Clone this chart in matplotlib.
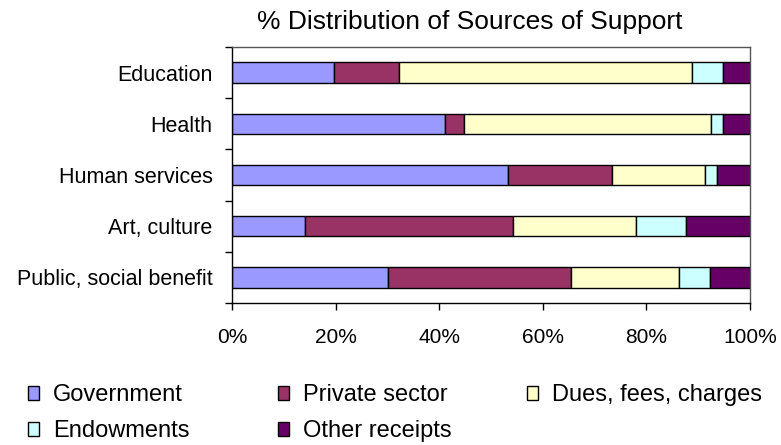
import matplotlib
matplotlib.use('Agg')
import matplotlib.pyplot as plt
import numpy as np

plt.rcParams['font.family'] = ['Liberation Sans', 'DejaVu Sans']

categories = ['Education', 'Health', 'Human services', 'Art, culture',
              'Public, social benefit']
series = ['Government', 'Private sector', 'Dues, fees, charges',
          'Endowments', 'Other receipts']
colors = ['#9999FF', '#993366', '#FFFFCC', '#CCFFFF', '#660066']

government = [19.7, 41.1, 53.3, 14.1, 30.2]
private = [12.6, 3.7, 20.1, 40.2, 35.2]
dues = [56.5, 47.6, 18.0, 23.7, 20.8]
endowments = [5.9, 2.4, 2.3, 9.6, 6.0]
other = [5.3, 5.2, 6.3, 12.4, 7.8]

values = np.array([government, private, dues, endowments, other])
shares = values / values.sum(axis=0) * 100

fig = plt.figure(figsize=(7.81, 4.45), dpi=100)
ax = fig.add_axes([232 / 781, 1 - 303 / 445, 518 / 781, 256 / 445])

y = np.arange(len(categories))[::-1]
left = np.zeros(len(categories))
handles = []
for s, name, c in zip(shares, series, colors):
    h = ax.barh(y, s, left=left, height=0.4, color=c, edgecolor='black',
                linewidth=1.0, label=name)
    handles.append(h)
    left += s

ax.set_xlim(0, 100)
ax.set_ylim(-0.5, len(categories) - 0.5)
ax.set_xticks(np.arange(0, 101, 20))
ax.set_xticklabels(['%d%%' % v for v in range(0, 101, 20)], fontsize=15)
ax.set_yticks(y)
ax.set_yticklabels(categories, fontsize=15.5)
ax.set_yticks(np.arange(-0.5, len(categories)), minor=True)
ax.tick_params(axis='y', which='major', length=0, pad=14)
ax.tick_params(axis='y', which='minor', length=5, width=1, direction='out')
ax.tick_params(axis='x', length=5, width=1, direction='out', pad=13)
for side in ('top', 'right'):
    ax.spines[side].set_color('#555555')
for spine in ax.spines.values():
    spine.set_linewidth(1)

ax.set_title('% Distribution of Sources of Support', fontsize=19, pad=13,
             x=0.459)

cols = [(0, 3), (1, 4), (2,)]
xs = [28 / 781, 278 / 781, 527 / 781]
for idx, x0 in zip(cols, xs):
    fig.legend(handles=[handles[i] for i in idx],
               labels=[series[i] for i in idx],
               loc='upper left', bbox_to_anchor=(x0, 1 - 384 / 445),
               frameon=False, fontsize=17, handlelength=0.45,
               handleheight=0.55, handletextpad=0.6, labelspacing=0.6,
               borderaxespad=0, borderpad=0)

fig.savefig('out.png', dpi=100)
